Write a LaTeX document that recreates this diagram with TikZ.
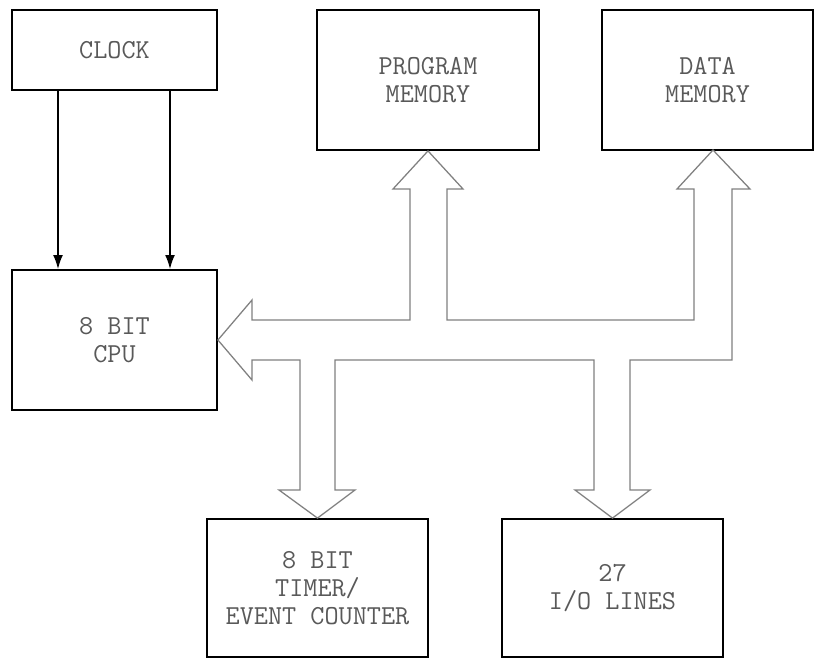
\documentclass[tikz,border=0pt]{standalone}
\usetikzlibrary{arrows.meta}
\tikzset{
    block/.style={draw=black, line width=1.3pt, rectangle, align=center,
        inner sep=0pt, text=black!65,
        font=\ttfamily\fontsize{19.5}{20}\selectfont},
    bus/.style={draw=black!50, line width=0.9pt, fill=white, line join=miter},
}
\begin{document}
\begin{tikzpicture}[x=0.025cm, y=-0.025cm]
    \useasboundingbox (0,0) rectangle (816,659);
    % blocks
    \node[block, minimum width=205*0.025cm, minimum height=80*0.025cm] (clock) at (114.5,50) {CLOCK};
    \node[block, minimum width=205*0.025cm, minimum height=140*0.025cm] (cpu) at (114.5,340) {8 BIT\\CPU};
    \node[block, minimum width=222*0.025cm, minimum height=140*0.025cm] (progmem) at (428,80) {PROGRAM\\MEMORY};
    \node[block, minimum width=211*0.025cm, minimum height=140*0.025cm] (datamem) at (707.5,80) {DATA\\MEMORY};
    \node[block, minimum width=221*0.025cm, minimum height=138*0.025cm] (timer) at (317.5,588) {8 BIT\\TIMER/\\EVENT COUNTER};
    \node[block, minimum width=221*0.025cm, minimum height=138*0.025cm] (io) at (612.5,588) {27\\I/O LINES};
    % clock lines
    \draw[-{Latex[length=10pt,width=7pt]}, line width=1pt] (clock.south -| 58,0) -- (cpu.north -| 58,0);
    \draw[-{Latex[length=10pt,width=7pt]}, line width=1pt] (clock.south -| 170,0) -- (cpu.north -| 170,0);
    % bus
    \draw[bus] (cpu.east) -- (252,300) -- (252,320) -- (410,320) -- (410,189)
        -- (393,189) -- (progmem.south) -- (463,189) -- (447,189) -- (447,320)
        -- (694,320) -- (694,189) -- (677,189) -- (713,150) -- (750,189)
        -- (732,189) -- (732,360) -- (630,360) -- (630,490) -- (650,490)
        -- (io.north) -- (575,490) -- (594,490) -- (594,360) -- (335,360)
        -- (335,490) -- (355,490) -- (timer.north) -- (279,490) -- (300,490)
        -- (300,360) -- (252,360) -- (252,380) -- cycle;
\end{tikzpicture}
\end{document}
